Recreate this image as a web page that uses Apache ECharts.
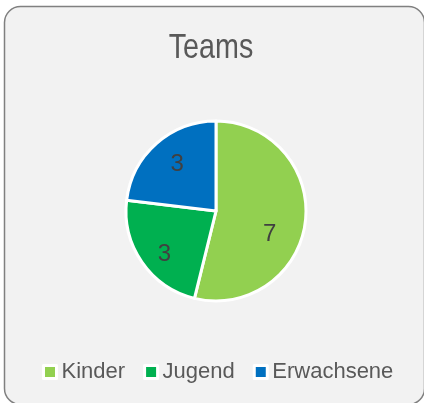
<!DOCTYPE html>
<html>
<head>
<meta charset="utf-8">
<script src="https://cdn.jsdelivr.net/npm/echarts@6/dist/echarts.min.js"></script>
<style>
  html, body { margin: 0; padding: 0; background: #fff; }
  #chart { width: 424px; height: 403px; }
</style>
</head>
<body>
<div id="chart"></div>
<script>
// Daten
const chartTitle = 'Teams';
const categories = ['Kinder', 'Jugend', 'Erwachsene'];
const values = [7, 3, 3];
const colors = ['#92d050', '#00b050', '#0070c0'];
// Label-Verschiebung (nur Optik)
const labelOffsets = [[6, 18], [-12, 16], [-7, -11]];

const myChart = echarts.init(document.getElementById('chart'));

const option = {
  animation: false,
  graphic: [
    {
      // Rahmen
      type: 'rect',
      z: -10,
      shape: { x: 4.5, y: 6.5, width: 420, height: 398, r: 16 },
      style: { fill: '#f2f2f2', stroke: '#808080', lineWidth: 1.5 }
    },
    {
      // Titel (schmal gezogen)
      type: 'text',
      x: 211,
      y: 48,
      scaleX: 0.82,
      style: {
        text: chartTitle,
        fontFamily: '"Liberation Sans", Arial, sans-serif',
        fontSize: 35,
        fill: '#595959',
        textAlign: 'center',
        textVerticalAlign: 'middle'
      }
    }
  ],
  legend: {
    data: categories,
    left: 37,
    top: 356,
    icon: 'rect',
    itemWidth: 13,
    itemHeight: 13,
    itemGap: 18,
    itemStyle: { borderColor: '#fff', borderWidth: 3 },
    textStyle: {
      fontFamily: '"Liberation Sans", Arial, sans-serif',
      fontSize: 22,
      color: '#595959'
    }
  },
  series: [
    {
      type: 'pie',
      center: [216, 211],
      radius: 90,
      startAngle: 90,
      clockwise: true,
      itemStyle: { borderColor: '#fff', borderWidth: 3 },
      label: {
        show: true,
        position: 'inside',
        formatter: '{c}',
        fontFamily: '"Liberation Sans", Arial, sans-serif',
        fontSize: 24,
        color: '#404040'
      },
      labelLine: { show: false },
      emphasis: { disabled: true },
      data: categories.map((name, i) => ({
        name: name,
        value: values[i],
        itemStyle: { color: colors[i] },
        label: { offset: labelOffsets[i] }
      }))
    }
  ]
};

myChart.setOption(option);
</script>
</body>
</html>
